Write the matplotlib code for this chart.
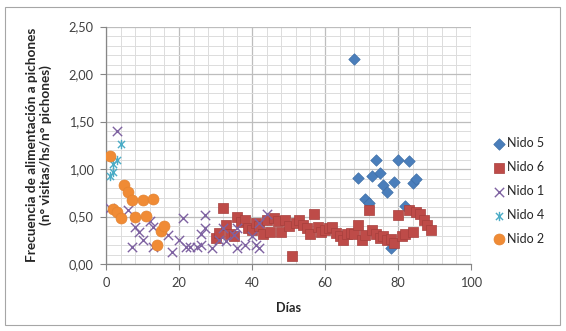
import numpy as np
import matplotlib
matplotlib.use("Agg")
import matplotlib.pyplot as plt
from matplotlib.path import Path
from matplotlib.patches import Rectangle
from matplotlib.ticker import MultipleLocator, FuncFormatter

# DATA
nido5_dias = [68, 69, 71, 72, 73, 74, 75, 76, 77, 78, 79, 80, 82, 83, 84, 85]
nido5_frec = [2.16, 0.91, 0.68, 0.64, 0.93, 1.09, 0.96, 0.83, 0.76, 0.17, 0.86, 1.09, 0.61, 1.08, 0.85, 0.90]

nido6_dias = [30, 31, 32, 33, 34, 35, 36, 37, 38, 39, 40, 41, 42, 43, 44, 45, 46, 47, 48, 49,
              50, 51, 52, 53, 54, 55, 56, 57, 58, 59, 60, 61, 62, 63, 64, 65, 66, 67, 68, 69,
              70, 71, 72, 73, 74, 75, 76, 77, 78, 79, 80, 81, 82, 83, 84, 85, 86, 87, 88, 89]
nido6_frec = [0.27, 0.33, 0.59, 0.41, 0.32, 0.30, 0.50, 0.44, 0.46, 0.38, 0.36, 0.43, 0.40, 0.32, 0.46, 0.34,
              0.48, 0.45, 0.34, 0.46, 0.40, 0.08, 0.43, 0.46, 0.41, 0.38, 0.32, 0.53, 0.39, 0.34,
              0.36, 0.38, 0.39, 0.33, 0.30, 0.25, 0.32, 0.33, 0.32, 0.41, 0.25, 0.31, 0.57, 0.36,
              0.32, 0.27, 0.30, 0.25, 0.26, 0.22, 0.52, 0.29, 0.32, 0.57, 0.34, 0.55, 0.53, 0.46,
              0.41, 0.36]

nido1_dias = [1, 3, 6, 7, 8, 9, 10, 12, 13, 13, 17, 18, 20, 21, 22, 23, 25, 26, 26, 27, 27,
              29, 31, 32, 33, 35, 36, 36, 38, 40, 41, 42, 42, 44]
nido1_frec = [0.59, 1.40, 0.57, 0.18, 0.39, 0.34, 0.25, 0.45, 0.39, 0.18, 0.31, 0.13, 0.25, 0.48,
              0.18, 0.18, 0.18, 0.32, 0.20, 0.52, 0.38, 0.17, 0.25, 0.38, 0.24, 0.31, 0.38, 0.17,
              0.20, 0.29, 0.20, 0.43, 0.17, 0.53]

nido4_dias = [1, 2, 2, 3, 4]
nido4_frec = [0.93, 0.97, 1.05, 1.10, 1.26]

nido2_dias = [1, 2, 3, 4, 5, 6, 7, 8, 10, 11, 13, 14, 15, 16]
nido2_frec = [1.14, 0.58, 0.55, 0.48, 0.83, 0.76, 0.67, 0.50, 0.67, 0.51, 0.68, 0.20, 0.35, 0.40]

# asterisk marker like Excel's "star"
estrella = Path(
    [(-1, -1), (1, 1), (-1, 1), (1, -1), (0, -1.3), (0, 1.3)],
    [Path.MOVETO, Path.LINETO, Path.MOVETO, Path.LINETO, Path.MOVETO, Path.LINETO]
)

plt.rcParams["font.family"] = ["Lato", "DejaVu Sans"]

fig = plt.figure(figsize=(5.66, 3.31), dpi=100)
ax = fig.add_axes([0.1873, 0.2024, 0.6449, 0.7175])

# chart border
fig.patches.append(Rectangle((5 / 566, 6 / 331), 555 / 566, 318 / 331,
                             transform=fig.transFigure, fill=False,
                             edgecolor="#A6A6A6", linewidth=0.8))

ax.scatter(nido5_dias, nido5_frec, marker="D", s=34, color="#4A7EBB",
           edgecolors="#3F6FA8", linewidths=0.5, label="Nido 5", zorder=3)
ax.scatter(nido6_dias, nido6_frec, marker="s", s=54, color="#BE4B48",
           edgecolors="#A63F3C", linewidths=0.5, label="Nido 6", zorder=3)
ax.scatter(nido1_dias, nido1_frec, marker="x", s=45, color="#7E62A1",
           linewidths=1.0, label="Nido 1", zorder=3)
ax.scatter(nido4_dias, nido4_frec, marker=estrella, s=45, color="#4BACC6",
           linewidths=1.0, label="Nido 4", zorder=3)
ax.scatter(nido2_dias, nido2_frec, marker="o", s=62, color="#F08B35",
           edgecolors="#E48330", linewidths=0.5, label="Nido 2", zorder=3)

ax.set_xlim(0, 100)
ax.set_ylim(0, 2.5)
ax.xaxis.set_major_locator(MultipleLocator(20))
ax.xaxis.set_minor_locator(MultipleLocator(4))
ax.yaxis.set_major_locator(MultipleLocator(0.5))
ax.yaxis.set_minor_locator(MultipleLocator(0.1))
ax.yaxis.set_major_formatter(FuncFormatter(lambda v, p: f"{v:.2f}".replace(".", ",")))

ax.grid(which="major", color="#BDBDBD", linewidth=0.9)
ax.grid(which="minor", color="#DCDCDC", linewidth=0.7)
ax.set_axisbelow(True)

for lado in ["top", "right"]:
    ax.spines[lado].set_visible(False)
for lado in ["left", "bottom"]:
    ax.spines[lado].set_color("#868686")
    ax.spines[lado].set_linewidth(0.9)

ax.tick_params(which="major", length=4, color="#868686", labelsize=9.2,
               labelcolor="#404040", pad=5)
ax.tick_params(which="minor", length=0)

ax.set_xlabel("Días", fontsize=9.2, fontweight="bold", color="#262626", labelpad=10)
ax.set_ylabel("Frecuencia de alimentación a pichones\n(n° visitas/hs/n° pichones)",
              fontsize=9.8, fontweight="bold", color="#262626", labelpad=12,
              linespacing=1.15)

fig.legend(loc="center left", bbox_to_anchor=(0.862, 0.423), frameon=False,
           fontsize=9, handletextpad=0.1, labelspacing=0.95, borderaxespad=0,
           handlelength=1.0, scatterpoints=1, labelcolor="#262626")

fig.savefig("out.png", dpi=100)
